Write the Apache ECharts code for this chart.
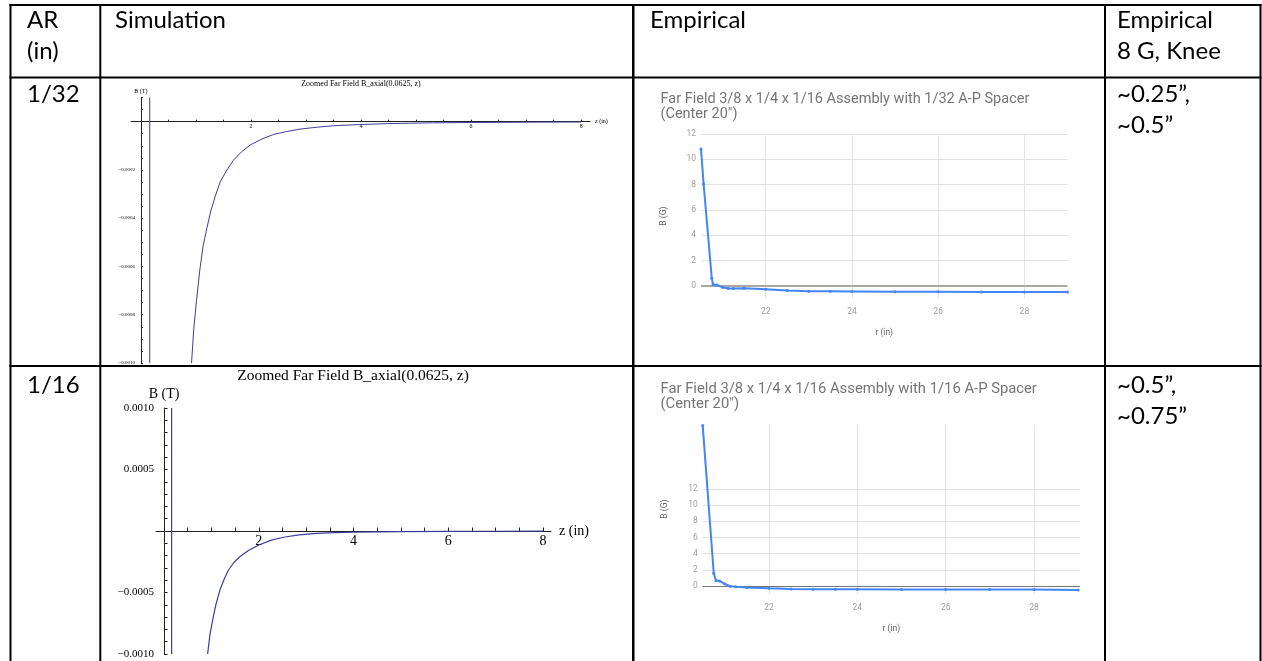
<!DOCTYPE html>
<html>
<head>
<meta charset="utf-8">
<script src="https://cdn.jsdelivr.net/npm/echarts@6/dist/echarts.min.js"></script>
<style>
  html, body { margin: 0; padding: 0; background: #fff; }
  #main { width: 1262px; height: 661px; }
</style>
</head>
<body>
<div id="main"></div>
<script>
// simulation, 1/32 spacer (Mathematica plot)
const simZ32 = [0.92, 0.96, 1.01, 1.07, 1.13, 1.2, 1.27, 1.35, 1.44, 1.55, 1.68, 1.83, 1.99, 2.2, 2.41, 2.65, 2.89, 3.2, 3.5, 3.98, 4.5, 5.3, 6, 7, 8];
const simB32 = [-0.001, -0.00086, -0.000742, -0.000615, -0.000515, -0.00044, -0.00037, -0.00031, -0.00025,
  -0.000205, -0.00016, -0.000125, -0.000096, -0.000072, -0.000053, -0.000041, -0.000031, -0.000023,
  -0.000017, -0.000012, -0.000008, -0.000005, -0.0000035, -0.0000023, -0.0000015];
const spikeZ32 = [0.16, 0.16];
const spikeB32 = [0.0001, -0.001];

// simulation, 1/16 spacer
const simZ16 = [0.92, 0.97, 1.04, 1.1, 1.18, 1.27, 1.36, 1.47, 1.6, 1.78, 2.0, 2.25, 2.52, 2.85, 3.22, 3.6, 4, 4.5, 5, 6, 7, 8];
const simB16 = [-0.001, -0.00084, -0.000697, -0.00059, -0.00048, -0.00039, -0.000317, -0.000258, -0.000209,
  -0.000158, -0.000114, -0.000076, -0.000051, -0.000032, -0.000019, -0.000014, -0.00001, -0.000007,
  -0.000005, -0.000003, -0.000002, -0.0000015];
const spikeZ16 = [0.16, 0.16];
const spikeB16 = [0.001, -0.001];

// empirical (Google Sheets charts)
const r32 = [20.5, 20.56, 20.75, 20.78, 20.87, 21.0, 21.13, 21.25, 21.5, 22, 22.5, 23, 23.5, 24, 25, 26, 27, 28, 29];
const b32 = [10.82, 8.05, 0.58, 0.1, 0.05, -0.13, -0.23, -0.23, -0.21, -0.29, -0.39, -0.45, -0.45, -0.46, -0.48, -0.48, -0.5, -0.5, -0.5];
const r16 = [20.5, 20.75, 20.8, 20.88, 21.0, 21.12, 21.25, 21.5, 22, 22.5, 23, 23.5, 24, 25, 26, 27, 28, 29];
const b16 = [19.84, 1.57, 0.66, 0.62, 0.25, -0.04, -0.1, -0.2, -0.29, -0.37, -0.41, -0.41, -0.41, -0.45, -0.45, -0.45, -0.45, -0.49];

// tick labels
const simXLabels = [2, 4, 6, 8];
const simYLabels32 = [-0.001, -0.0008, -0.0006, -0.0004, -0.0002];
const simYLabels16 = [-0.001, -0.0005, 0.0005, 0.001];
const empXLabels = [22, 24, 26, 28];
const empYLabels = [0, 2, 4, 6, 8, 10, 12];

const pairs = (xs, ys) => xs.map((x, i) => [x, ys[i]]);
const steps = (a, b, s) => {
  const out = [];
  for (let v = a; v <= b + s / 1000; v += s) {
    const r = +v.toFixed(7);
    if (Math.abs(r) > s / 1000) out.push(r);
  }
  return out;
};
const minus = (v) => (v < 0 ? '\u2212' : '') + Math.abs(v).toFixed(4);

const serif = 'Liberation Serif';
const mathBlue = '#3d3d99';
const gBlue = '#4285f4';

const grids = [];
const xAxes = [];
const yAxes = [];
const hidden = (g, min, max) => ({ gridIndex: g, type: 'value', min: min, max: max, show: false });

// a Mathematica-style plot: one grid for the data, plus two grids whose
// edges sit on the zero lines so that the axes cross at the origin
function mathPlot(p) {
  const [L, T, W, H] = p.rect;
  const x0 = L + W * (0 - p.x[0]) / (p.x[1] - p.x[0]);
  const y0 = T + H * (p.y[1] - 0) / (p.y[1] - p.y[0]);
  const data = grids.length;
  grids.push({ left: L, top: T, width: W, height: H });
  xAxes.push(hidden(data, p.x[0], p.x[1]));
  yAxes.push(hidden(data, p.y[0], p.y[1]));

  const gx = grids.length;
  grids.push({ left: L, top: T, width: W, height: y0 - T });
  xAxes.push({
    gridIndex: gx, type: 'value', min: p.x[0], max: p.x[1], position: 'bottom',
    axisLine: { show: true, lineStyle: { color: '#222', width: 1 } },
    axisTick: { inside: true, length: p.tick, customValues: steps(0.5, 8, 0.5), lineStyle: { color: '#222' } },
    axisLabel: { customValues: simXLabels, fontSize: p.xfs, fontFamily: serif, color: '#000', margin: p.xMargin },
    splitLine: { show: false },
    name: 'z (in)', nameLocation: 'end', nameGap: p.xNameGap,
    nameTextStyle: { fontSize: p.xfs, fontFamily: serif, color: '#000' }
  });
  yAxes.push(hidden(gx, 0, 1));

  const gy = grids.length;
  grids.push({ left: x0, top: T, width: L + W - x0, height: H });
  xAxes.push(hidden(gy, 0, 1));
  yAxes.push({
    gridIndex: gy, type: 'value', min: p.y[0], max: p.y[1], position: 'left',
    axisLine: { show: true, lineStyle: { color: '#222', width: 1 } },
    axisTick: { inside: true, length: p.tick, customValues: steps(p.y[0], p.y[1], p.yStep), lineStyle: { color: '#222' } },
    axisLabel: { customValues: p.yLabels, formatter: minus, fontSize: p.yfs, fontFamily: serif, color: '#000', margin: p.yMargin },
    splitLine: { show: false },
    name: 'B (T)', nameLocation: 'end', nameGap: p.yNameGap,
    nameTextStyle: { fontSize: p.xfs, fontFamily: serif, color: '#000' }
  });
  return data;
}

function empPlot(rect, xmax, ymax) {
  const [L, T, W, H] = rect;
  const g = grids.length;
  grids.push({ left: L, top: T, width: W, height: H });
  xAxes.push({
    gridIndex: g, type: 'value', min: 20.5, max: xmax,
    axisLine: { show: false }, axisTick: { show: false },
    axisLabel: { customValues: empXLabels, fontSize: 8.5, fontFamily: 'Roboto', color: '#9e9e9e', margin: 9 },
    splitLine: { show: false },
    name: 'r (in)', nameLocation: 'middle', nameGap: 30,
    nameTextStyle: { fontSize: 8.5, fontFamily: 'Roboto', color: '#616161' }
  });
  yAxes.push({
    gridIndex: g, type: 'value', min: -1, max: ymax,
    axisLine: { show: false }, axisTick: { show: false },
    axisLabel: { customValues: empYLabels, fontSize: 8.5, fontFamily: 'Roboto', color: '#9e9e9e', margin: 5 },
    splitLine: { show: false },
    name: 'B (G)', nameLocation: 'middle', nameGap: 33, nameRotate: 90,
    nameTextStyle: { fontSize: 8.5, fontFamily: 'Roboto', color: '#616161' }
  });
  return g;
}

const g1 = mathPlot({ rect: [131, 97.5, 459, 265.5], x: [-0.18, 8.16], y: [-0.001, 0.0001], yStep: 0.00005,
  yLabels: simYLabels32, tick: 2, xfs: 6, yfs: 5, xMargin: 2, yMargin: 6, xNameGap: 5, yNameGap: 3 });
const g2 = empPlot([701, 134, 366.5, 164.3], 29, 12);
const g3 = mathPlot({ rect: [156, 408, 395, 246], x: [-0.17, 8.17], y: [-0.001, 0.001], yStep: 0.0001,
  yLabels: simYLabels16, tick: 3.5, xfs: 14, yfs: 11, xMargin: 3, yMargin: 10, xNameGap: 8, yNameGap: 7 });
const g4 = empPlot([702.7, 424.3, 377.3, 169.7], 29.04, 20);

// grid lines of the sheet charts, hung on an empty series under the data
function empGridSeries(g, zeroColor, zeroWidth) {
  return {
    type: 'line', xAxisIndex: g, yAxisIndex: g, data: [], silent: true, z: 1,
    markLine: {
      silent: true, symbol: 'none', z: 1, animation: false,
      label: { show: false },
      lineStyle: { color: '#e3e3e3', width: 1, type: 'solid' },
      data: empXLabels.map(v => ({ xAxis: v }))
        .concat(empYLabels.slice(1).map(v => ({ yAxis: v })))
        .concat([{ yAxis: 0, lineStyle: { color: zeroColor, width: zeroWidth, type: 'solid' } }])
    }
  };
}

function empSeries(g, xs, ys) {
  return {
    type: 'line', xAxisIndex: g, yAxisIndex: g, z: 3,
    data: pairs(xs, ys),
    symbol: 'circle', symbolSize: 3, showSymbol: true,
    lineStyle: { color: gBlue, width: 2 },
    itemStyle: { color: gBlue }
  };
}

function mathSeries(g, xs, ys, width) {
  return {
    type: 'line', xAxisIndex: g, yAxisIndex: g, z: 3,
    data: pairs(xs, ys), showSymbol: false, smooth: false,
    lineStyle: { color: mathBlue, width: width }
  };
}

const cellFont = 'Lato';
function cellText(x, y, text) {
  return {
    type: 'text', left: x, top: y - 15.5, z: 10,
    style: { text: text, x: 0, y: 0, fontSize: 24, fontFamily: cellFont, fill: '#000', lineHeight: 31 }
  };
}
function rule(x, y, w, h) {
  return { type: 'rect', shape: { x: x, y: y, width: w, height: h }, style: { fill: '#000' }, z: 10 };
}

const chart = echarts.init(document.getElementById('main'), null, { renderer: 'canvas' });

const option = {
  animation: false,
  backgroundColor: '#fff',
  title: [
    { text: 'Zoomed Far Field B_axial(0.0625, z)', left: 361, top: 79.5, textAlign: 'center', padding: 0,
      textStyle: { fontSize: 8, fontWeight: 'normal', fontFamily: serif, color: '#000' } },
    { text: 'Far Field 3/8 x 1/4 x 1/16 Assembly with 1/32 A-P Spacer\n(Center 20")', left: 660.5, top: 91.5, padding: 0,
      textStyle: { fontSize: 14.5, fontWeight: 'normal', fontFamily: 'Roboto', color: '#757575', lineHeight: 15.5 } },
    { text: 'Zoomed Far Field B_axial(0.0625, z)', left: 353, top: 367.5, textAlign: 'center', padding: 0,
      textStyle: { fontSize: 15.5, fontWeight: 'normal', fontFamily: serif, color: '#000' } },
    { text: 'Far Field 3/8 x 1/4 x 1/16 Assembly with 1/16 A-P Spacer\n(Center 20")', left: 660.5, top: 381.5, padding: 0,
      textStyle: { fontSize: 14.8, fontWeight: 'normal', fontFamily: 'Roboto', color: '#757575', lineHeight: 15 } }
  ],
  grid: grids,
  xAxis: xAxes,
  yAxis: yAxes,
  series: [
    mathSeries(g1, simZ32, simB32, 1),
    mathSeries(g1, spikeZ32, spikeB32, 1),
    empGridSeries(g2, '#aba7a3', 2),
    empSeries(g2, r32, b32),
    mathSeries(g3, simZ16, simB16, 1.2),
    mathSeries(g3, spikeZ16, spikeB16, 1.2),
    empGridSeries(g4, '#757575', 1),
    empSeries(g4, r16, b16)
  ],
  graphic: [
    rule(9.5, 4, 1252, 2),
    rule(9.5, 4, 2, 657),
    rule(99.3, 4, 2, 657),
    rule(632, 4, 2.5, 657),
    rule(1104, 4, 2, 657),
    rule(1259.5, 4, 2, 657),
    rule(9.5, 76.5, 1252, 2),
    rule(9.5, 365, 1252, 2),
    cellText(27, 20, 'AR\n(in)'),
    cellText(115, 20, 'Simulation'),
    cellText(650, 20, 'Empirical'),
    cellText(1117, 20, 'Empirical\n8 G, Knee'),
    cellText(27, 94, '1/32'),
    cellText(1117, 94, '~0.25\u201d,\n~0.5\u201d'),
    cellText(27, 385, '1/16'),
    cellText(1117, 385, '~0.5\u201d,\n~0.75\u201d')
  ]
};

chart.setOption(option);
</script>
</body>
</html>
